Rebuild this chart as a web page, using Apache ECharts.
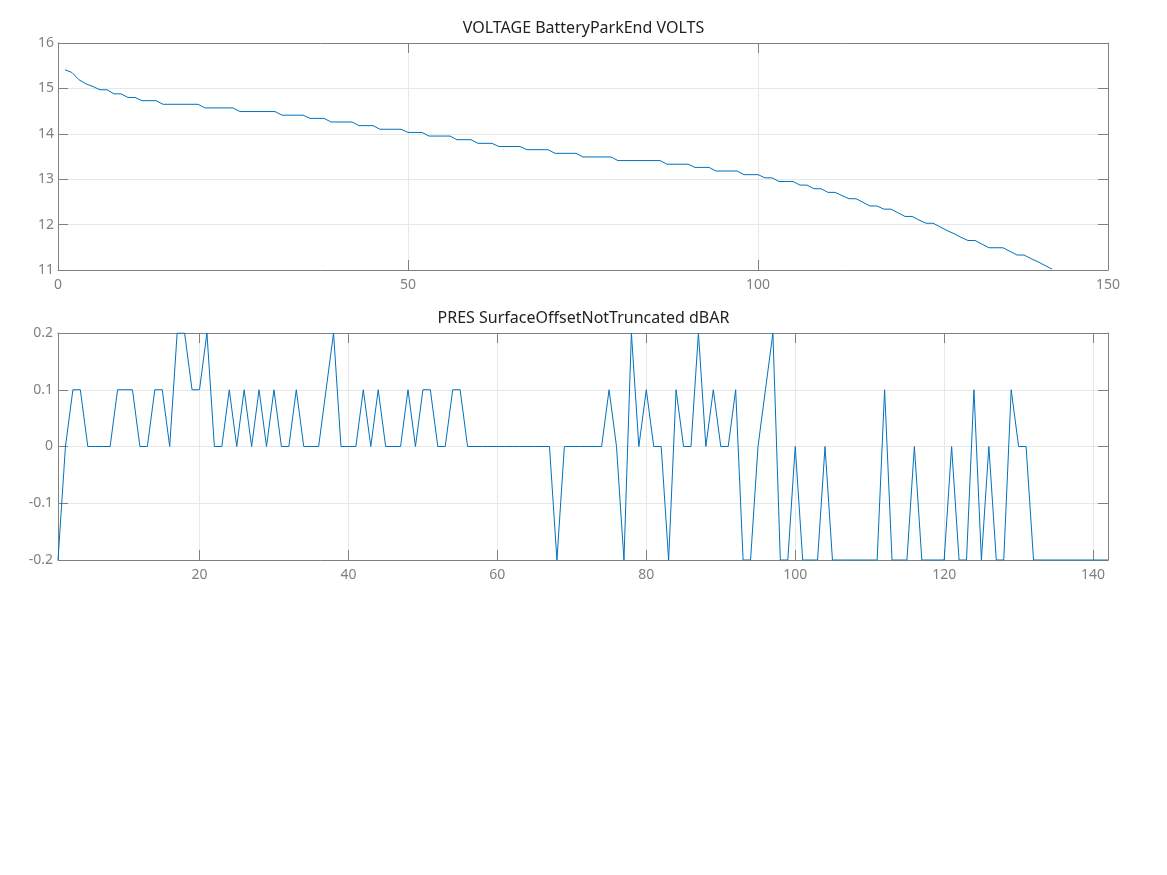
<!DOCTYPE html>
<html>
<head>
<meta charset="utf-8">
<title>VOLTAGE / PRES</title>
<script src="https://cdn.jsdelivr.net/npm/echarts@6/dist/echarts.min.js"></script>
<style>
    html, body { margin: 0; padding: 0; background: #fff; }
    #chart { width: 1167px; height: 875px; }
</style>
</head>
<body>
<div id="chart"></div>
<script>
// cycle number, 1..142
const cycles = [];
for (let c = 1; c <= 142; c++) cycles.push(c);

// VOLTAGE BatteryParkEnd (VOLTS)
const volts = [
    15.41, 15.35, 15.19, 15.10, 15.04, 14.97, 14.97, 14.88, 14.88, 14.80,
    14.80, 14.73, 14.73, 14.73, 14.65, 14.65, 14.65, 14.65, 14.65, 14.65,
    14.57, 14.57, 14.57, 14.57, 14.57, 14.49, 14.49, 14.49, 14.49, 14.49,
    14.49, 14.41, 14.41, 14.41, 14.41, 14.34, 14.34, 14.34, 14.26, 14.26,
    14.26, 14.26, 14.18, 14.18, 14.18, 14.10, 14.10, 14.10, 14.10, 14.03,
    14.03, 14.03, 13.95, 13.95, 13.95, 13.95, 13.87, 13.87, 13.87, 13.79,
    13.79, 13.79, 13.72, 13.72, 13.72, 13.72, 13.65, 13.65, 13.65, 13.65,
    13.57, 13.57, 13.57, 13.57, 13.49, 13.49, 13.49, 13.49, 13.49, 13.41,
    13.41, 13.41, 13.41, 13.41, 13.41, 13.41, 13.33, 13.33, 13.33, 13.33,
    13.26, 13.26, 13.26, 13.18, 13.18, 13.18, 13.18, 13.10, 13.10, 13.10,
    13.03, 13.03, 12.95, 12.95, 12.95, 12.87, 12.87, 12.79, 12.79, 12.71,
    12.71, 12.64, 12.57, 12.57, 12.49, 12.41, 12.41, 12.34, 12.34, 12.26,
    12.18, 12.18, 12.10, 12.03, 12.03, 11.95, 11.87, 11.80, 11.72, 11.65,
    11.65, 11.57, 11.49, 11.49, 11.49, 11.41, 11.33, 11.33, 11.25, 11.18,
    11.10, 11.02
];

// PRES SurfaceOffsetNotTruncated (dBAR)
const pres = [
    -0.2, 0, 0.1, 0.1, 0, 0, 0, 0, 0.1, 0.1,
    0.1, 0, 0, 0.1, 0.1, 0, 0.2, 0.2, 0.1, 0.1,
    0.2, 0, 0, 0.1, 0, 0.1, 0, 0.1, 0, 0.1,
    0, 0, 0.1, 0, 0, 0, 0.1, 0.2, 0, 0,
    0, 0.1, 0, 0.1, 0, 0, 0, 0.1, 0, 0.1,
    0.1, 0, 0, 0.1, 0.1, 0, 0, 0, 0, 0,
    0, 0, 0, 0, 0, 0, 0, -0.2, 0, 0,
    0, 0, 0, 0, 0.1, 0, -0.2, 0.2, 0, 0.1,
    0, 0, -0.2, 0.1, 0, 0, 0.2, 0, 0.1, 0,
    0, 0.1, -0.2, -0.2, 0, 0.1, 0.2, -0.2, -0.2, 0,
    -0.2, -0.2, -0.2, 0, -0.2, -0.2, -0.2, -0.2, -0.2, -0.2,
    -0.2, 0.1, -0.2, -0.2, -0.2, 0, -0.2, -0.2, -0.2, -0.2,
    0, -0.2, -0.2, 0.1, -0.2, 0, -0.2, -0.2, 0.1, 0,
    0, -0.2, -0.2, -0.2, -0.2, -0.2, -0.2, -0.2, -0.2, -0.2,
    -0.2, -0.2
];

const presTicks = [20, 40, 60, 80, 100, 120, 140];

const axisGray = '#808080';
const gridGray = '#e8e8e8';
const font = 'Noto Sans';

function frameAxis(extra) {
    return Object.assign({
        type: 'value',
        axisLine: { show: true, onZero: false, lineStyle: { color: axisGray, width: 1 } },
        axisTick: { show: true, inside: true, length: 10, lineStyle: { color: axisGray } },
        axisLabel: { color: axisGray, fontSize: 14, fontFamily: font },
        splitLine: { show: false }
    }, extra);
}

const titleStyle = { fontSize: 16, fontWeight: 'normal', color: '#222', fontFamily: font };

const myChart = echarts.init(document.getElementById('chart'));
myChart.setOption({
    animation: false,
    title: [
        { text: 'VOLTAGE BatteryParkEnd VOLTS', left: 'center', top: 15, textStyle: titleStyle },
        { text: 'PRES SurfaceOffsetNotTruncated dBAR', left: 'center', top: 305, textStyle: titleStyle }
    ],
    grid: [
        { left: 58, right: 59, top: 43, height: 227 },
        { left: 58, right: 59, top: 333, height: 227 }
    ],
    xAxis: [
        frameAxis({ gridIndex: 0, position: 'bottom', min: 0, max: 150, interval: 50,
            axisLabel: { color: axisGray, fontSize: 14, fontFamily: font, margin: 8 },
            splitLine: { show: true, lineStyle: { color: gridGray } } }),
        frameAxis({ gridIndex: 0, position: 'top', min: 0, max: 150, interval: 50,
            axisLabel: { show: false } }),
        frameAxis({ gridIndex: 1, position: 'bottom', min: 1, max: 142,
            axisTick: { show: true, inside: true, length: 10, lineStyle: { color: axisGray }, customValues: presTicks },
            axisLabel: { color: axisGray, fontSize: 14, fontFamily: font, margin: 8, customValues: presTicks },
            splitLine: { show: true, lineStyle: { color: gridGray } } }),
        frameAxis({ gridIndex: 1, position: 'top', min: 1, max: 142,
            axisTick: { show: true, inside: true, length: 10, lineStyle: { color: axisGray }, customValues: presTicks },
            axisLabel: { show: false } })
    ],
    yAxis: [
        frameAxis({ gridIndex: 0, position: 'left', min: 11, max: 16, interval: 1,
            axisLabel: { color: axisGray, fontSize: 14, fontFamily: font, margin: 4 },
            splitLine: { show: true, lineStyle: { color: gridGray } } }),
        frameAxis({ gridIndex: 0, position: 'right', min: 11, max: 16, interval: 1,
            axisLabel: { show: false } }),
        frameAxis({ gridIndex: 1, position: 'left', min: -0.2, max: 0.2, interval: 0.1,
            axisLabel: { color: axisGray, fontSize: 14, fontFamily: font, margin: 5,
                formatter: v => String(Math.round(v * 10) / 10) },
            splitLine: { show: true, lineStyle: { color: gridGray } } }),
        frameAxis({ gridIndex: 1, position: 'right', min: -0.2, max: 0.2, interval: 0.1,
            axisLabel: { show: false } })
    ],
    series: [
        {
            type: 'line',
            xAxisIndex: 0,
            yAxisIndex: 0,
            data: cycles.map((c, i) => [c, volts[i]]),
            showSymbol: false,
            lineStyle: { color: '#0072bd', width: 1 },
            itemStyle: { color: '#0072bd' }
        },
        {
            type: 'line',
            xAxisIndex: 2,
            yAxisIndex: 2,
            data: cycles.map((c, i) => [c, pres[i]]),
            showSymbol: false,
            lineStyle: { color: '#0072bd', width: 1 },
            itemStyle: { color: '#0072bd' }
        }
    ]
});
</script>
</body>
</html>
